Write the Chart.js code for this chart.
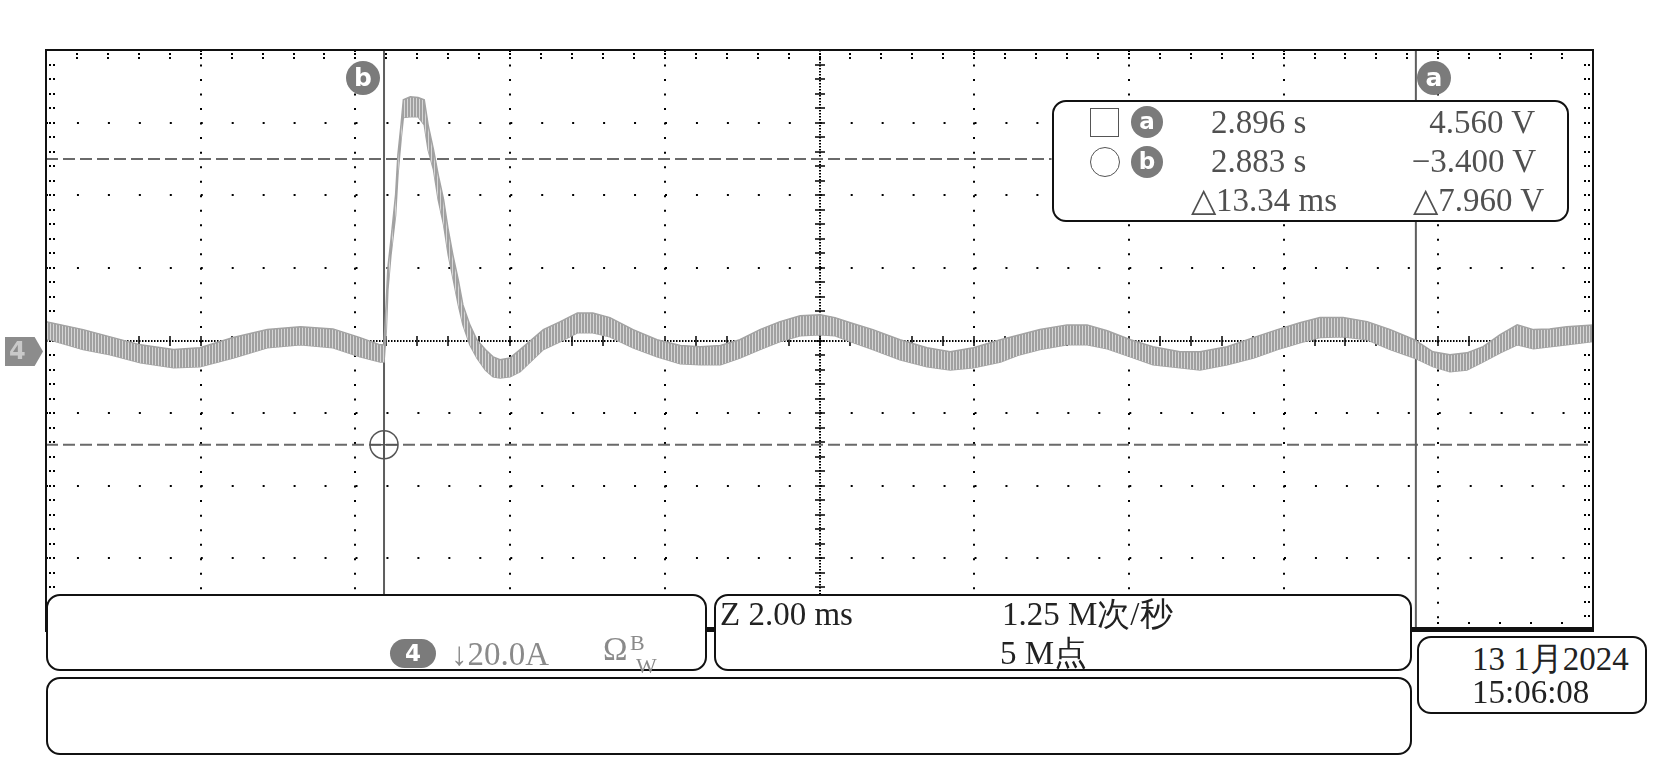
<!DOCTYPE html>
<html>
<head>
<meta charset="utf-8">
<script src="https://cdn.jsdelivr.net/npm/chart.js@4.4.1/dist/chart.umd.min.js"></script>
<style>
html,body{margin:0;padding:0;background:#fff;}
#wrap{position:relative;width:1654px;height:761px;overflow:hidden;font-family:"Liberation Serif","Times New Roman",serif;}
#c{position:absolute;left:0;top:0;}
.box{position:absolute;box-sizing:border-box;border:2px solid #111;border-radius:14px;background:#fff;}
.t{position:absolute;white-space:nowrap;font-size:33px;line-height:33px;}
.badge{position:absolute;border-radius:50%;background:#7b7b7b;color:#fff;font-family:"DejaVu Sans",sans-serif;font-weight:bold;text-align:center;}
</style>
</head>
<body>
<div id="wrap">
<canvas id="c" width="1654" height="761"></canvas>

<!-- channel marker -->
<div style="position:absolute;left:5px;top:337px;width:38px;height:29px;background:#8c8c8c;clip-path:polygon(0 0,78% 0,100% 50%,78% 100%,0 100%);"></div>
<div class="t" style="left:9px;top:337px;font:bold 24px 'DejaVu Sans',sans-serif;line-height:29px;color:#c9c9c9;">4</div>

<!-- cursor badges -->
<div class="badge" style="left:346px;top:61px;width:34px;height:34px;font-size:25px;line-height:33px;">b</div>
<div class="badge" style="left:1417px;top:61px;width:34px;height:34px;font-size:25px;line-height:33px;">a</div>

<!-- readout box -->
<div class="box" style="left:1052px;top:100px;width:517px;height:122px;"></div>
<div style="position:absolute;left:1090px;top:108px;width:29px;height:29px;box-sizing:border-box;border:1.5px solid #555;"></div>
<div class="badge" style="left:1131px;top:106px;width:32px;height:32px;font-size:23px;line-height:31px;">a</div>
<div style="position:absolute;left:1090px;top:147px;width:30px;height:30px;box-sizing:border-box;border:1.5px solid #555;border-radius:50%;"></div>
<div class="badge" style="left:1131px;top:146px;width:32px;height:32px;font-size:23px;line-height:31px;">b</div>
<div class="t" style="left:1211px;top:106px;color:#505050;">2.896 s</div>
<div class="t" style="left:1211px;top:145px;color:#505050;">2.883 s</div>
<div class="t" style="left:1191px;top:184px;color:#505050;">△13.34 ms</div>
<div class="t" style="right:119px;top:106px;color:#505050;">4.560 V</div>
<div class="t" style="right:118px;top:145px;color:#505050;">−3.400 V</div>
<div class="t" style="right:110px;top:184px;color:#505050;">△7.960 V</div>

<!-- bottom boxes -->
<div class="box" style="left:46px;top:594px;width:661px;height:77px;"></div>
<div class="box" style="left:714px;top:594px;width:698px;height:77px;"></div>
<div class="box" style="left:46px;top:677px;width:1366px;height:78px;"></div>
<div class="box" style="left:1417px;top:636px;width:230px;height:78px;"></div>

<div class="badge" style="left:390px;top:639px;width:46px;height:29px;border-radius:15px;font-size:23px;line-height:29px;">4</div>
<div class="t" style="left:451px;top:638px;color:#8a8a8a;">↓20.0A</div>
<div class="t" style="left:603px;top:633px;color:#8a8a8a;">Ω</div>
<div class="t" style="left:630px;top:626px;color:#8a8a8a;font-size:22px;">B</div>
<div class="t" style="left:636px;top:649px;color:#8a8a8a;font-size:22px;">W</div>

<div class="t" style="left:720px;top:598px;color:#222;">Z 2.00 ms</div>
<div class="t" style="left:1002px;top:598px;color:#222;">1.25 M次/秒</div>
<div class="t" style="left:1000px;top:637px;color:#222;">5 M点</div>

<div class="t" style="left:1472px;top:643px;color:#222;">13 1月2024</div>
<div class="t" style="left:1472px;top:676px;color:#222;">15:06:08</div>
</div>

<script>
// ---- data (time in ms, current in A; 2 ms/div, 20 A/div) ----
const timeMs = [0.00,0.48,0.83,1.22,1.65,1.99,2.42,2.86,3.29,3.71,4.06,4.32,4.37,4.40,4.42,4.46,4.52,4.55,4.59,4.62,4.71,4.81,4.89,4.94,5.01,5.07,5.14,5.20,5.26,5.33,5.39,5.48,5.57,5.68,5.78,5.87,6.00,6.13,6.43,6.65,6.87,7.07,7.29,7.59,7.90,8.20,8.46,8.72,8.97,9.23,9.49,9.75,10.01,10.20,10.40,10.69,11.04,11.39,11.69,11.99,12.34,12.59,12.85,13.20,13.46,13.72,14.02,14.31,14.66,14.92,15.27,15.61,15.92,16.21,16.47,16.77,17.08,17.38,17.69,17.93,18.15,18.37,18.58,18.80,19.02,19.23,19.44,19.66,20.00];
const upperA = [5.2,3.0,1.0,-1.2,-2.5,-2.0,0.8,3.0,3.8,3.2,0.8,-1.2,-1.2,11.2,20.0,27.8,40.2,51.2,59.4,66.3,67.1,66.9,66.3,59.4,52.5,45.7,38.8,30.5,23.6,16.7,9.8,4.3,0.2,-2.5,-4.5,-5.3,-4.8,-2.5,3.0,5.2,7.6,7.6,6.3,3.0,0.2,-1.4,-1.7,-1.4,0.2,3.0,5.2,6.8,7.1,6.3,4.9,3.0,0.2,-2.0,-3.1,-2.0,0.2,1.6,3.0,4.3,4.3,2.7,0.2,-1.7,-3.1,-3.1,-1.7,0.8,3.0,4.9,6.3,6.3,5.2,3.0,0.2,-3.1,-3.9,-3.4,-1.7,1.6,4.3,3.0,3.2,3.8,4.3];
const lowerA = [0.5,-2.5,-3.9,-6.1,-7.5,-7.2,-4.8,-2.0,-1.2,-2.0,-4.5,-5.9,-5.9,3.0,14.0,23.6,34.6,45.7,55.3,61.4,61.6,61.6,59.4,52.5,47.0,38.8,31.9,23.6,17.3,9.8,4.3,-1.2,-4.8,-8.1,-10.0,-10.3,-10.0,-8.6,-2.5,-0.3,2.1,2.1,1.0,-2.0,-4.5,-6.4,-6.7,-6.7,-4.8,-2.5,-0.3,1.3,1.6,1.3,-0.3,-2.5,-5.3,-7.2,-8.1,-7.5,-5.9,-3.9,-2.5,-1.2,-1.2,-2.3,-4.5,-6.7,-7.5,-8.1,-6.7,-4.8,-2.5,-0.6,0.8,1.0,0.2,-2.5,-4.8,-7.2,-8.6,-8.1,-5.9,-3.4,-1.2,-2.3,-1.7,-1.2,-0.3];
const cursorTimesMs = [17.71, 4.37];     // cursor a, cursor b
const cursorLevelsA = [50.0, -28.7];     // dashed horizontal cursors
const cursorLevelEndMs = [13.0, 20.0];   // where each dashed cursor line ends
const xRange = [0, 20], xDiv = 2, xCenter = 10;
const yRange = [-80, 80], yDiv = 20, yCenter = 0;

const band = (arr) => timeMs.map((t, i) => ({x: t, y: arr[i]}));
const TRACE = '#a3a3a3';

// hatch-like fill for the rippled trace
const pc = document.createElement('canvas');
pc.width = 3; pc.height = 1;
const pctx = pc.getContext('2d');
pctx.fillStyle = '#a0a0a0'; pctx.fillRect(0, 0, 2, 1);
pctx.fillStyle = '#d6d6d6'; pctx.fillRect(2, 0, 1, 1);
const hatch = pctx.createPattern(pc, 'repeat');

const datasets = [
  {data: band(upperA), borderColor: TRACE, borderWidth: 1.5, pointRadius: 0, fill: '+1', backgroundColor: hatch, tension: 0},
  {data: band(lowerA), borderColor: TRACE, borderWidth: 1.5, pointRadius: 0, fill: false, tension: 0},
  {data: [{x: cursorTimesMs[1], y: cursorLevelsA[1]}], type: 'scatter', pointStyle: 'circle', pointRadius: 14, borderColor: '#555', borderWidth: 1.5, backgroundColor: 'rgba(0,0,0,0)'},
  {data: [{x: cursorTimesMs[1], y: cursorLevelsA[1]}], type: 'scatter', pointStyle: 'cross', pointRadius: 14, borderColor: '#555', borderWidth: 1.5}
];
cursorTimesMs.forEach(t => datasets.push({data: [{x: t, y: yRange[0]}, {x: t, y: yRange[1]}], borderColor: '#5e5e5e', borderWidth: 2, pointRadius: 0, fill: false}));
cursorLevelsA.forEach((v, i) => datasets.push({data: [{x: xRange[0], y: v}, {x: cursorLevelEndMs[i], y: v}], borderColor: '#6a6a6a', borderWidth: 2, borderDash: [12, 5], pointRadius: 0, fill: false}));

const graticule = {
  id: 'graticule',
  beforeDatasetsDraw(chart) {
    const {ctx, chartArea: a, scales: {x, y}} = chart;
    const xc = Math.round(x.getPixelForValue(xCenter)), yc = Math.round(y.getPixelForValue(yCenter));
    ctx.save();
    ctx.fillStyle = '#000';
    for (let py = a.top; py < a.bottom; py += 3) ctx.fillRect(xc - 1, py, 2, 1.5);
    for (let px = a.left; px < a.right; px += 3) ctx.fillRect(px, yc - 1, 1.5, 2);
    const xMinor = xDiv / 5, yMinor = yDiv / 5;
    for (let v = xRange[0]; v <= xRange[1] + 1e-9; v += xMinor) {
      const px = Math.round(x.getPixelForValue(v));
      ctx.fillRect(px - 1, a.top + 3, 2, 2); ctx.fillRect(px - 1, a.top + 7, 2, 2);
      ctx.fillRect(px - 1, a.bottom - 9, 2, 2);
      ctx.fillRect(px - 0.75, yc - 5, 1.5, 10);
    }
    for (let v = yRange[0]; v <= yRange[1] + 1e-9; v += yMinor) {
      const py = Math.round(y.getPixelForValue(v));
      ctx.fillRect(a.left + 3, py - 1, 2, 2); ctx.fillRect(a.left + 7, py - 1, 2, 2);
      ctx.fillRect(a.right - 5, py - 1, 2, 2); ctx.fillRect(a.right - 9, py - 1, 2, 2);
      ctx.fillRect(xc - 5, py - 0.75, 10, 1.5);
    }
    ctx.restore();
  },
  afterDatasetsDraw(chart) {
    const {ctx, chartArea: a} = chart;
    ctx.save();
    ctx.strokeStyle = '#111';
    ctx.lineWidth = 2;
    ctx.beginPath();
    ctx.moveTo(a.left, a.bottom); ctx.lineTo(a.left, a.top); ctx.lineTo(a.right, a.top); ctx.lineTo(a.right, a.bottom);
    ctx.stroke();
    ctx.fillStyle = '#111';
    ctx.fillRect(a.left - 1, a.bottom - 4, a.right - a.left + 2, 5);
    ctx.restore();
  }
};

new Chart(document.getElementById('c'), {
  type: 'line',
  data: {datasets},
  options: {
    responsive: false,
    animation: false,
    devicePixelRatio: 1,
    layout: {padding: {left: 46, right: 61, top: 50, bottom: 130}},
    plugins: {legend: {display: false}, tooltip: {enabled: false}},
    elements: {line: {borderCapStyle: 'butt'}},
    scales: {
      x: {
        type: 'linear', min: xRange[0], max: xRange[1],
        ticks: {display: false, stepSize: xDiv},
        grid: {drawTicks: false, lineWidth: 2,
               color: c => (c.tick && (c.tick.value === xCenter || c.tick.value === xRange[0] || c.tick.value === xRange[1])) ? 'rgba(0,0,0,0)' : '#000'},
        border: {display: false, dash: [2, 12.52]}
      },
      y: {
        type: 'linear', min: yRange[0], max: yRange[1],
        ticks: {display: false, stepSize: yDiv},
        grid: {drawTicks: false, lineWidth: 2,
               color: c => (c.tick && (c.tick.value === yCenter || c.tick.value === yRange[0] || c.tick.value === yRange[1])) ? 'rgba(0,0,0,0)' : '#000'},
        border: {display: false, dash: [2, 28.95]}
      }
    }
  },
  plugins: [graticule]
});
</script>
</body>
</html>
